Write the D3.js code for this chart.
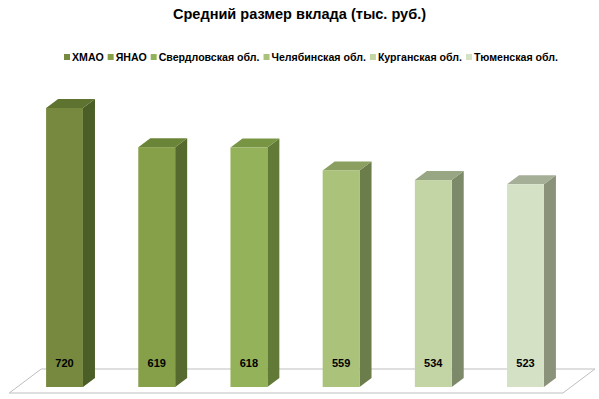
<!DOCTYPE html>
<html>
<head>
<meta charset="utf-8">
<script src="https://cdn.jsdelivr.net/npm/d3@7"></script>
<style>
  body { margin: 0; background: #fff; }
  text { font-family: "Liberation Sans", Arial, sans-serif; font-weight: bold; }
</style>
</head>
<body>
<svg id="chart"></svg>
<script>
let width = 599,
    height = 399;

// data
let regions = ["ХМАО", "ЯНАО", "Свердловская обл.", "Челябинская обл.", "Курганская обл.", "Тюменская обл."];
let deposits = [720, 619, 618, 559, 534, 523];

// front / top / side shades per bar
let frontColors = ["#77893f", "#86a04a", "#94b25a", "#abc27a", "#c3d4a5", "#d5e1c4"];
let topColors   = ["#5e7330", "#6b8538", "#789544", "#8a9f60", "#98a683", "#a5ae97"];
let sideColors  = ["#4b5e28", "#56692e", "#627a38", "#6b7d4a", "#7d8a6a", "#8a9379"];

let depthX = 12, depthY = 9;

let svg = d3.select("svg#chart")
    .attr("width", width)
    .attr("height", height);

let x = d3.scaleBand()
    .domain(regions)
    .range([0, 590])
    .paddingInner(0.6)
    .paddingOuter(0.5);

let y = d3.scaleLinear()
    .domain([0, 800])
    .range([387, 77]);

// title
svg.append("text")
    .attr("x", width / 2)
    .attr("y", 19)
    .attr("text-anchor", "middle")
    .attr("font-size", 14)
    .attr("fill", "#000")
    .attr("textLength", 253)
    .attr("lengthAdjust", "spacingAndGlyphs")
    .text("Средний размер вклада (тыс. руб.)");

// legend: measure natural widths, then squeeze to the reference span
let legend = svg.append("g").attr("class", "legend");
let items = legend.selectAll("g")
    .data(regions)
    .enter().append("g");
items.append("rect")
    .attr("width", 6)
    .attr("height", 6)
    .attr("y", 54)
    .attr("fill", (d, i) => frontColors[i]);
items.append("text")
    .attr("y", 61)
    .attr("font-size", 10)
    .attr("fill", "#000")
    .text(d => d);

let natural = [];
items.select("text").each(function () { natural.push(this.getComputedTextLength()); });
let gapMarker = 8, gapItem = 4;
let legendStart = 64, legendEnd = 558;
let fixed = regions.length * gapMarker + (regions.length - 1) * gapItem;
let k = (legendEnd - legendStart - fixed) / d3.sum(natural);
let cursor = legendStart;
items.each(function (d, i) {
    let g = d3.select(this);
    let w = natural[i] * k;
    g.select("rect").attr("x", cursor);
    g.select("text")
        .attr("x", cursor + gapMarker)
        .attr("textLength", w)
        .attr("lengthAdjust", "spacingAndGlyphs");
    cursor += gapMarker + w + gapItem;
});

// floor
let bw = x.bandwidth();
let floorFront = y(0) + 6;
let fl = x(regions[0]) - bw;
let fr = x(regions[regions.length - 1]) + bw + 19;
svg.append("path")
    .attr("d", `M${fl},${floorFront} L${fr},${floorFront} L${fr + 32},${floorFront - 24} L${fl + 32},${floorFront - 24} Z`)
    .attr("fill", "#fff")
    .attr("stroke", "#bfbfbf")
    .attr("stroke-width", 1);

// bars
let bars = svg.selectAll("g.bar")
    .data(deposits)
    .enter().append("g")
    .attr("class", "bar");

bars.append("path")
    .attr("d", (d, i) => {
        let x0 = x(regions[i]) + bw, yt = y(d), yb = y(0);
        return `M${x0},${yt} L${x0 + depthX},${yt - depthY} L${x0 + depthX},${yb - depthY} L${x0},${yb} Z`;
    })
    .attr("fill", (d, i) => sideColors[i]);

bars.append("path")
    .attr("d", (d, i) => {
        let x0 = x(regions[i]), yt = y(d);
        return `M${x0},${yt} L${x0 + depthX},${yt - depthY} L${x0 + bw + depthX},${yt - depthY} L${x0 + bw},${yt} Z`;
    })
    .attr("fill", (d, i) => topColors[i]);

bars.append("rect")
    .attr("x", (d, i) => x(regions[i]))
    .attr("y", d => y(d))
    .attr("width", bw)
    .attr("height", d => y(0) - y(d))
    .attr("fill", (d, i) => frontColors[i]);

bars.append("text")
    .attr("x", (d, i) => x(regions[i]) + bw / 2)
    .attr("y", y(0) - 20)
    .attr("text-anchor", "middle")
    .attr("font-size", 11)
    .attr("fill", "#000")
    .text(d => d);
</script>
</body>
</html>
